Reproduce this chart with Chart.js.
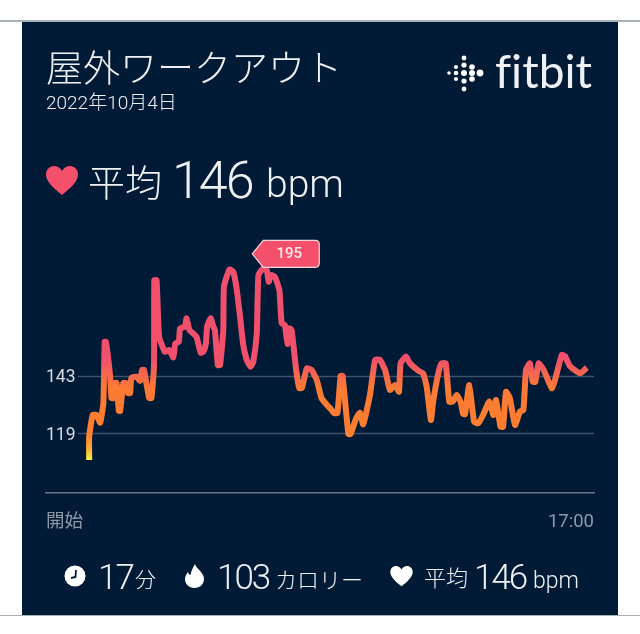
<!DOCTYPE html>
<html lang="ja">
<head>
<meta charset="utf-8">
<title>屋外ワークアウト</title>
<script src="https://cdn.jsdelivr.net/npm/chart.js@4"></script>
<style>
  html, body { margin: 0; padding: 0; background: #fff; }
  body { width: 640px; height: 634px; position: relative; overflow: hidden; font-family: Roboto, "Noto Sans CJK JP", sans-serif; }
  #rule-top, #rule-bottom { position: absolute; left: 0; width: 640px; background: #a9b0b6; z-index: 2; }
  #rule-top { top: 20px; height: 2px; }
  #rule-bottom { top: 615px; height: 1px; }
  #card { position: absolute; left: 22px; top: 21px; width: 596px; height: 594px; background: #011b36; }
  #myChart { position: absolute; left: 0; top: 0; }
  .txt { position: absolute; color: #eef1f4; white-space: nowrap; font-weight: 300; line-height: 1; }
  .ico { position: absolute; }
</style>
</head>
<body>
<div id="rule-top"></div>
<div id="rule-bottom"></div>
<div id="card"></div>
<canvas id="myChart" width="640" height="634"></canvas>

<div class="txt" style="left:46px;top:51px;font-size:37px;">屋外ワークアウト</div>
<div class="txt" style="left:46px;top:93px;font-size:19px;">2022年10月4日</div>

<svg class="ico" style="left:446px;top:54px" width="40" height="40" viewBox="0 0 40 40" fill="#fff">
  <circle cx="3" cy="19" r="1.8"/><circle cx="10" cy="13" r="2.1"/><circle cx="10" cy="19" r="2.3"/><circle cx="10" cy="25" r="2.1"/>
  <circle cx="18" cy="4" r="2.4"/><circle cx="18" cy="11" r="2.6"/><circle cx="18" cy="19" r="3"/><circle cx="18" cy="27" r="2.6"/><circle cx="18" cy="35" r="2.4"/>
  <circle cx="26" cy="13" r="2.8"/><circle cx="26" cy="19" r="3"/><circle cx="26" cy="25" r="2.8"/><circle cx="34" cy="19" r="3.4"/>
</svg>
<div class="txt" style="left:495px;top:48px;font-size:46px;font-family:Lato;font-weight:400;font-variant-ligatures:none;">fitbit</div>

<svg class="ico" style="left:46px;top:166px" width="32" height="30" viewBox="0 0 32 30" fill="#f5506b">
  <path d="M16 29C6 21 0 15 0 8.500C0 3.500 3.800 0 8 0c3.300 0 6.300 1.800 8 5 1.700-3.200 4.700-5 8-5 4.200 0 8 3.500 8 8.500C32 15 26 21 16 29z"/>
</svg>
<div class="txt" style="left:88px;top:166px;font-size:37px;">平均</div>
<div class="txt" style="left:172px;top:155px;font-size:52px;letter-spacing:-2px;">146</div>
<div class="txt" style="left:266px;top:165px;font-size:39px;">bpm</div>

<svg class="ico" style="left:64px;top:565px" width="22" height="22" viewBox="0 0 22 22">
  <circle cx="11" cy="11" r="10.500" fill="#fff"/>
  <path d="M12 5 L11.500 12 L7 13" stroke="#011b36" stroke-width="1.800" fill="none"/>
</svg>
<div class="txt" style="left:98px;top:560px;font-size:35px;letter-spacing:-2px;">17</div>
<div class="txt" style="left:135px;top:570px;font-size:21px;">分</div>
<svg class="ico" style="left:185px;top:564px" width="19" height="24" viewBox="0 0 19 24" fill="#fff">
  <path d="M10 0c1 5 9 8 9 15 0 5-4 9-9.500 9S0 20 0 15c0-3 1.500-5 3-7 .5 2 1.500 3 2.500 3C6 7 8 4 10 0z"/>
</svg>
<div class="txt" style="left:217px;top:560px;font-size:35px;letter-spacing:-2px;">103</div>
<div class="txt" style="left:275px;top:570px;font-size:22px;">カロリー</div>
<svg class="ico" style="left:390px;top:566px" width="23" height="21" viewBox="0 0 32 30" fill="#fff">
  <path d="M16 29C6 21 0 15 0 8.500C0 3.500 3.800 0 8 0c3.300 0 6.300 1.800 8 5 1.700-3.200 4.700-5 8-5 4.200 0 8 3.500 8 8.500C32 15 26 21 16 29z"/>
</svg>
<div class="txt" style="left:424px;top:568px;font-size:22px;">平均</div>
<div class="txt" style="left:474px;top:560px;font-size:35px;letter-spacing:-2px;">146</div>
<div class="txt" style="left:533px;top:569px;font-size:23px;">bpm</div>

<script>
  // minutes since start / bpm
  const minutes = [
    1.34, 1.34, 1.45, 1.57, 1.68, 1.78, 1.82, 1.86, 1.99, 2.03, 2.09, 2.13, 2.19, 2.26, 2.30, 2.40,
    2.48, 2.54, 2.61, 2.65, 2.81, 2.92, 2.98, 3.04, 3.20, 3.27, 3.35, 3.36, 3.43, 3.51, 3.69, 3.82,
    3.95, 4.01, 4.12, 4.16, 4.31, 4.36, 4.45, 4.59, 4.67, 4.80, 4.88, 4.96, 5.00, 5.11, 5.19, 5.24,
    5.33, 5.40, 5.50, 5.52, 5.69, 5.81, 5.92, 6.02, 6.12, 6.23, 6.35, 6.43, 6.54, 6.59, 6.74, 6.85,
    6.91, 6.98, 7.10, 7.24, 7.31, 7.41, 7.49, 7.55, 7.62, 7.76, 7.86, 7.94, 8.09, 8.24, 8.40, 8.55,
    8.76, 8.81, 8.93, 9.04, 9.14, 9.20, 9.38, 9.45, 9.62, 9.74, 9.84, 10.05, 10.21, 10.36, 10.52, 10.67,
    10.83, 10.95, 11.00, 11.17, 11.29, 11.55, 11.70, 11.81, 11.94, 12.01, 12.17, 12.27, 12.40, 12.51, 12.62, 12.74,
    12.86, 12.94, 13.00, 13.13, 13.28, 13.41, 13.56, 13.75, 13.88, 13.96, 14.10, 14.18, 14.27, 14.39, 14.55, 14.70,
    14.81, 14.89, 15.01, 15.10, 15.18, 15.28, 15.43, 15.69, 15.79, 16.00, 16.10, 16.25, 16.57, 16.78
  ];
  const bpm = [
    107.9, 117.7, 126.7, 126.7, 123.5, 131.7, 157.3, 157.3, 142.7, 133.8, 133.8, 140.1, 140.1, 128.4, 128.4, 140.1,
    140.1, 135.9, 135.9, 142.2, 142.7, 141, 145.5, 145.5, 133.8, 133.8, 146.9, 183, 183, 159.4, 153.1, 153.9,
    150.8, 156.6, 157.3, 162.9, 163.6, 167.1, 162.2, 160.5, 159.4, 152.7, 153.1, 156.6, 163.9, 167.1, 163.6, 162.2,
    147.6, 147.6, 162.2, 180.3, 187.5, 186.5, 178.9, 167.7, 155.9, 149.7, 146.9, 149, 161, 185.2, 188, 187.2,
    182.4, 185.2, 184.4, 178.9, 165, 164.3, 156.4, 162.9, 162.2, 145.5, 137.9, 138, 146.2, 145.5, 141.3, 133.7,
    130.2, 129.6, 127.6, 127.6, 143, 143, 118.8, 118.8, 125.3, 127.6, 122.8, 135.1, 149.7, 149.7, 145.5, 137.2,
    139.2, 136.4, 148.3, 151.1, 148.3, 145.2, 144.1, 138.5, 124.6, 132.3, 144.1, 148.3, 148.3, 132.3, 132.3, 135.1,
    132.3, 127.1, 127.1, 139.2, 123.9, 123.3, 126.7, 132.3, 126.7, 133, 121.8, 121.8, 136.4, 133.7, 122.5, 128.1,
    128.8, 145.5, 148.3, 140.6, 140.6, 148.3, 145.8, 137.9, 141.3, 151.8, 151.3, 147.2, 144.1, 146.5
  ];
  const yTicks = [119, 143];
  const xTicks = [0, 17];
  const xTickLabels = ["開始", "17:00"];
  const peakLabel = "195";

  // gridlines start right of the tick labels, so they are drawn here
  const hrLines = {
    id: "hrLines",
    beforeDatasetsDraw(chart) {
      const c = chart.ctx;
      const y = chart.scales.y;
      c.save();
      c.strokeStyle = "#3b5268";
      c.lineWidth = 1.5;
      yTicks.forEach((t) => {
        const py = Math.round(y.getPixelForValue(t)) + 0.5;
        c.beginPath();
        c.moveTo(78, py);
        c.lineTo(chart.chartArea.right, py);
        c.stroke();
      });
      c.restore();
    },
  };

  // the 195 tag next to the highest point
  const peakTag = {
    id: "peakTag",
    afterDatasetsDraw(chart) {
      const c = chart.ctx;
      const i = bpm.indexOf(Math.max(...bpm));
      const px = chart.scales.x.getPixelForValue(minutes[i]);
      const py = chart.scales.y.getPixelForValue(bpm[i]);
      const l = px - 11, r = px + 56, t = py - 28, b = py - 1, tipY = (t + b) / 2;
      c.save();
      c.beginPath();
      c.moveTo(l, tipY);
      c.lineTo(l + 11, t);
      c.lineTo(r - 4, t);
      c.quadraticCurveTo(r, t, r, t + 4);
      c.lineTo(r, b - 4);
      c.quadraticCurveTo(r, b, r - 4, b);
      c.lineTo(l + 11, b);
      c.closePath();
      c.fillStyle = "#f5506b";
      c.fill();
      c.strokeStyle = "#f3d9de";
      c.lineWidth = 1.2;
      c.stroke();
      c.fillStyle = "#fbe9ec";
      c.font = '500 15px "Roboto"';
      c.textAlign = "center";
      c.textBaseline = "middle";
      c.fillText(peakLabel, l + 37, tipY + 0.5);
      c.restore();
    },
  };

  function hrGradient(context) {
    const chart = context.chart;
    if (!chart.chartArea) return "#f5506b";
    const y = chart.scales.y;
    const top = y.getPixelForValue(150);
    const bottom = y.getPixelForValue(108);
    const g = chart.ctx.createLinearGradient(0, top, 0, bottom);
    g.addColorStop(0, "#f0506c");
    g.addColorStop(0.28, "#fb7a35");
    g.addColorStop(0.75, "#ff7f2e");
    g.addColorStop(0.88, "#fba83a");
    g.addColorStop(1, "#fdf03f");
    return g;
  }

  new Chart(document.getElementById("myChart"), {
    type: "line",
    data: {
      labels: minutes,
      datasets: [
        {
          data: minutes.map((m, i) => ({ x: m, y: bpm[i] })),
          borderColor: hrGradient,
          borderWidth: 6,
          pointRadius: 0,
          tension: 0.15,
          borderCapStyle: "butt",
          borderJoinStyle: "round",
        },
      ],
    },
    options: {
      responsive: false,
      animation: false,
      layout: { padding: { left: 46, right: 46, top: 230, bottom: 83 } },
      plugins: { legend: { display: false }, tooltip: { enabled: false } },
      scales: {
        x: {
          type: "linear",
          min: 0,
          max: 17,
          afterBuildTicks: (axis) => {
            axis.ticks = xTicks.map((v) => ({ value: v }));
          },
          ticks: {
            align: "inner",
            maxRotation: 0,
            autoSkip: false,
            padding: 18,
            color: "#8c9aa8",
            font: { family: 'Roboto, "Noto Sans CJK JP"', size: 18.5 },
            callback: (v) => xTickLabels[xTicks.indexOf(v)],
          },
          grid: { display: false, drawTicks: false },
          border: { display: true, color: "#65788a", width: 1.5 },
        },
        y: {
          min: 94.2,
          max: 204,
          afterBuildTicks: (axis) => {
            axis.ticks = yTicks.map((v) => ({ value: v }));
          },
          afterFit: (axis) => {
            axis.width = 0;
          },
          ticks: {
            mirror: true,
            padding: 0,
            labelOffset: 2,
            color: "#d5dbe1",
            font: { family: 'Roboto, "Noto Sans CJK JP"', size: 17.5 },
          },
          grid: { display: false, drawTicks: false },
          border: { display: false },
        },
      },
    },
    plugins: [hrLines, peakTag],
  });
</script>
</body>
</html>
